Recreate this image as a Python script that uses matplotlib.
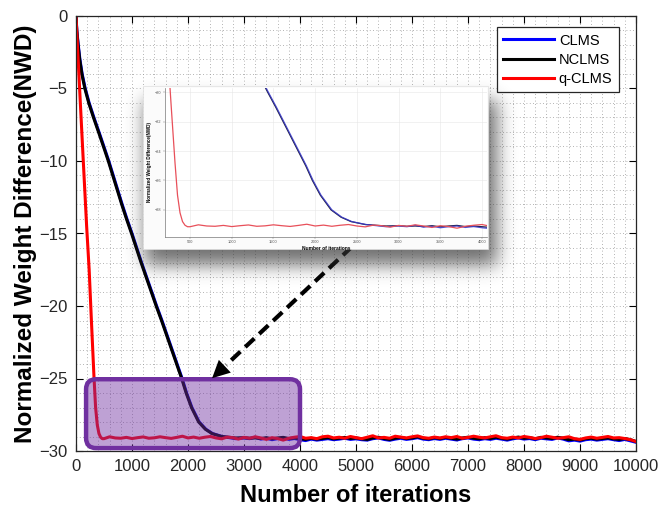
import numpy as np
import matplotlib
matplotlib.use('Agg')
import matplotlib.pyplot as plt
from matplotlib.patches import FancyBboxPatch, Rectangle
from matplotlib.ticker import MultipleLocator

plt.rcParams['font.family'] = ['Liberation Sans', 'DejaVu Sans']

# ---------------- data ----------------
labels = ['CLMS', 'NCLMS', 'q-CLMS']
colors = ['#0000ff', '#000000', '#ff0000']

# transient part of CLMS / NCLMS
clms_tr_x = [0, 15, 40, 70, 110, 165, 235, 320, 410, 498, 585, 665, 745, 825,
             910, 1000, 1085, 1170, 1260, 1350, 1440, 1535, 1625, 1715, 1805,
             1895, 1975, 2070, 2200, 2320, 2440, 2610, 2850]
clms_tr_y = [0, -1, -2, -3, -4, -5, -6, -7, -8, -9, -10, -11, -12, -13, -14,
             -15, -16, -17, -18, -19, -20, -21, -22, -23, -24, -25, -26, -27,
             -28, -28.5, -28.8, -29.0, -29.15]
nclms_tr_x = [0, 13, 37, 66, 105, 158, 228, 312, 402, 490, 577, 657, 737, 817,
              902, 992, 1077, 1162, 1252, 1342, 1432, 1527, 1617, 1707, 1797,
              1887, 1967, 2062, 2190, 2310, 2430, 2600, 2850]
nclms_tr_y = [0, -1, -2, -3, -4, -5, -6, -7, -8, -9, -10, -11, -12, -13, -14,
              -15, -16, -17, -18, -19, -20, -21, -22, -23, -24, -25, -26, -27,
              -28, -28.5, -28.8, -29.0, -29.1]

# steady state of CLMS / NCLMS, iterations 3000..10000 every 100
clms_ss = [-29.10, -29.15, -29.05, -29.18, -29.12, -29.22, -29.15, -29.10, -29.20, -29.14,
           -29.22, -29.28, -29.18, -29.25, -29.20, -29.15, -29.22, -29.18, -29.12, -29.20,
           -29.16, -29.22, -29.25, -29.15, -29.10, -29.20, -29.26, -29.18, -29.12, -29.20,
           -29.15, -29.08, -29.18, -29.22, -29.14, -29.20, -29.12, -29.18, -29.24, -29.15,
           -29.10, -29.18, -29.22, -29.15, -29.20, -29.12, -29.18, -29.25, -29.16, -29.10,
           -29.18, -29.14, -29.22, -29.12, -29.16, -29.20, -29.10, -29.18, -29.30, -29.25,
           -29.32, -29.22, -29.18, -29.25, -29.20, -29.15, -29.22, -29.28, -29.20, -29.30,
           -29.40]
nclms_ss = [-29.08, -29.12, -29.10, -29.14, -29.08, -29.16, -29.10, -29.06, -29.14, -29.10,
            -29.15, -29.20, -29.12, -29.18, -29.14, -29.08, -29.16, -29.12, -29.06, -29.14,
            -29.10, -29.16, -29.20, -29.10, -29.05, -29.14, -29.20, -29.12, -29.06, -29.14,
            -29.10, -29.02, -29.12, -29.16, -29.08, -29.14, -29.06, -29.12, -29.18, -29.10,
            -29.05, -29.12, -29.16, -29.08, -29.14, -29.05, -29.12, -29.18, -29.10, -29.04,
            -29.12, -29.08, -29.16, -29.06, -29.10, -29.14, -29.05, -29.12, -29.22, -29.18,
            -29.24, -29.15, -29.12, -29.18, -29.14, -29.10, -29.16, -29.20, -29.14, -29.22,
            -29.34]

# q-CLMS transient
qclms_tr_x = [0, 25, 130, 190, 235, 275, 320, 350, 380, 410, 440, 470]
qclms_tr_y = [0, -2.0, -10.0, -14.5, -17.5, -21.0, -24.8, -27.0, -28.2, -28.8, -29.05, -29.15]
# q-CLMS steady state, iterations 500..10000 every 100
qclms_ss = [-29.15, -29.02, -29.10, -29.12, -29.06, -29.14, -29.08, -29.03, -29.12, -29.09,
            -29.02, -29.08, -29.13, -29.06, -28.98, -29.10, -29.04, -29.12, -29.05, -29.00,
            -29.10, -29.16, -29.04, -29.08, -29.18, -29.06, -29.12, -29.02, -29.10, -29.20,
            -29.08, -29.14, -29.25, -29.12, -29.05, -29.00, -29.12, -29.08, -29.15, -29.02,
            -28.98, -29.10, -29.05, -29.12, -29.00, -29.08, -29.15, -29.05, -28.95, -29.10,
            -29.06, -29.12, -28.98, -29.04, -29.10, -29.02, -28.96, -29.08, -29.12, -29.04,
            -29.10, -29.02, -29.08, -29.00, -29.12, -29.06, -28.98, -29.05, -29.10, -29.02,
            -28.95, -29.08, -29.12, -29.04, -29.10, -29.00, -29.06, -29.14, -29.08, -28.98,
            -29.05, -29.12, -29.08, -29.02, -29.15, -29.20, -29.10, -29.04, -29.12, -29.06,
            -29.00, -29.10, -29.08, -29.14, -29.22, -29.35]

x_ticks = [0, 1000, 2000, 3000, 4000, 5000, 6000, 7000, 8000, 9000, 10000]
y_ticks = [-30, -25, -20, -15, -10, -5, 0]
inset_x_ticks = [500, 1000, 1500, 2000, 2500, 3000, 3500, 4000]
inset_y_ticks = [-28, -26, -24, -22, -20]

ss_grid = np.arange(3000, 10001, 100)
q_grid = np.arange(500, 10001, 100)
series = [
    (np.r_[clms_tr_x, ss_grid], np.r_[clms_tr_y, clms_ss]),
    (np.r_[nclms_tr_x, ss_grid], np.r_[nclms_tr_y, nclms_ss]),
    (np.r_[qclms_tr_x, q_grid], np.r_[qclms_tr_y, qclms_ss]),
]

# ---------------- figure ----------------
W, H = 660, 516
fig = plt.figure(figsize=(W / 100, H / 100), dpi=100)
fig.patch.set_facecolor('white')


def fx(px):
    return px / W


def fy(py):
    return 1 - py / H


ax_l, ax_r, ax_t, ax_b = 76, 636, 16, 451
ax = fig.add_axes([fx(ax_l), fy(ax_b), (ax_r - ax_l) / W, (ax_b - ax_t) / H])

for (xs, ys), lab, c in zip(series, labels, colors):
    ax.plot(xs, ys, color=c, lw=2.2, label=lab)

ax.set_xlim(0, 10000)
ax.set_ylim(-30, 0)
ax.set_xticks(x_ticks)
ax.set_yticks(y_ticks)
ax.xaxis.set_minor_locator(MultipleLocator(200))
ax.yaxis.set_minor_locator(MultipleLocator(1))
ax.grid(which='both', linestyle=(0, (1, 3)), color='#9a9a9a', lw=0.6)
ax.tick_params(which='major', direction='in', top=True, right=True, length=5,
               width=0.8, labelsize=12, labelcolor='#262626', pad=6)
ax.tick_params(which='minor', length=0)
for s in ax.spines.values():
    s.set_color('#262626')
    s.set_linewidth(0.9)

ax.set_xlabel('Number of iterations', fontsize=17, fontweight='bold', labelpad=7)
ax.set_ylabel('Normalized Weight Difference(NWD)', fontsize=17.5, fontweight='bold',
              labelpad=2)

leg = ax.legend(loc='upper right', bbox_to_anchor=(0.9696, 0.9747), borderaxespad=0,
                fancybox=False, framealpha=1, edgecolor='#262626', fontsize=10.5,
                handlelength=3.5, handletextpad=0.3, labelspacing=0.35,
                borderpad=0.45)
leg.get_frame().set_linewidth(0.9)

# purple highlight box (rounded, drawn above the data)
x_per_px = 10000 / (ax_r - ax_l)
y_per_px = 30 / (ax_b - ax_t)
rad = 10
box = FancyBboxPatch((180, -29.8), 4000 - 180, 29.8 - 25.05,
                     boxstyle=f'round,pad=0,rounding_size={rad * x_per_px}',
                     mutation_aspect=y_per_px / x_per_px,
                     facecolor=(0.44, 0.19, 0.63, 0.45), edgecolor='#7030a0',
                     lw=3.2, zorder=5, clip_on=False)
ax.add_patch(box)

# dashed arrow
x0, y0 = 4930, -15.9
x1, y1 = 2430, -24.98
t = 0.9
ax.plot([x0, x0 + t * (x1 - x0)], [y0, y0 + t * (y1 - y0)], color='black', lw=3,
        ls=(0, (3, 1.6)), zorder=6, solid_capstyle='butt', dash_capstyle='butt')
ax.annotate('', xy=(x1, y1), xytext=(x0 + 0.8 * (x1 - x0), y0 + 0.8 * (y1 - y0)),
            arrowprops=dict(arrowstyle='-|>,head_length=0.9,head_width=0.45',
                            color='black', lw=0, mutation_scale=14,
                            shrinkA=0, shrinkB=0), zorder=6)

# ---------------- inset (zoomed picture with soft shadow) ----------------
img_l, img_r, img_t, img_b = 143, 488, 86, 249

# soft drop shadow as a blurred image
cx0, cx1, cy0, cy1 = 100, 550, 60, 320
hh, ww = cy1 - cy0, cx1 - cx0
mask = np.zeros((hh, ww))
mask[(img_t + 14 - cy0):(img_b + 16 - cy0), (img_l + 2 - cx0):(img_r + 9 - cx0)] = 1.0
sig = 9.0
kk = np.arange(-28, 29)
kern = np.exp(-0.5 * (kk / sig) ** 2)
kern /= kern.sum()
blur = np.apply_along_axis(lambda r: np.convolve(r, kern, mode='same'), 1, mask)
blur = np.apply_along_axis(lambda c: np.convolve(c, kern, mode='same'), 0, blur)
rgba = np.zeros((hh, ww, 4))
rgba[..., :3] = 0.2
rgba[..., 3] = 0.7 * blur
fig.figimage(rgba, xo=cx0, yo=H - cy1, origin='upper', zorder=7)

bg = Rectangle((fx(img_l), fy(img_b)), (img_r - img_l) / W, (img_b - img_t) / H,
               transform=fig.transFigure, facecolor='#fbfbfb', edgecolor='#e0e0e0',
               lw=0.5, zorder=8)
fig.patches.append(bg)

in_l, in_r, in_t, in_b = 165, 487, 88, 237
axi = fig.add_axes([fx(in_l), fy(in_b), (in_r - in_l) / W, (in_b - in_t) / H], zorder=10)
axi.set_facecolor('white')
in_cols = ['#3a3acc', '#202040', '#e8505a']
for i in [1, 0, 2]:
    xs, ys = series[i]
    axi.plot(xs, ys, color=in_cols[i], lw=0.9, alpha=0.85 if i == 0 else 1)
axi.set_xlim(200, 4060)
axi.set_ylim(-29.85, -19.7)
axi.set_xticks(inset_x_ticks)
axi.set_yticks(inset_y_ticks)
axi.grid(True, color='#e6e6e6', lw=0.4)
axi.tick_params(labelsize=2.8, labelcolor='#555555', length=1.5, width=0.3, pad=1,
                color='#777777')
for s in ['top', 'right']:
    axi.spines[s].set_visible(False)
for s in ['left', 'bottom']:
    axi.spines[s].set_color('#777777')
    axi.spines[s].set_linewidth(0.5)
axi.set_xlabel('Number of iterations', fontsize=3.5, fontweight='bold', labelpad=1)
axi.set_ylabel('Normalized Weight Difference(NWD)', fontsize=3.3, fontweight='bold',
               labelpad=2)

fig.savefig('out.png', dpi=100)
